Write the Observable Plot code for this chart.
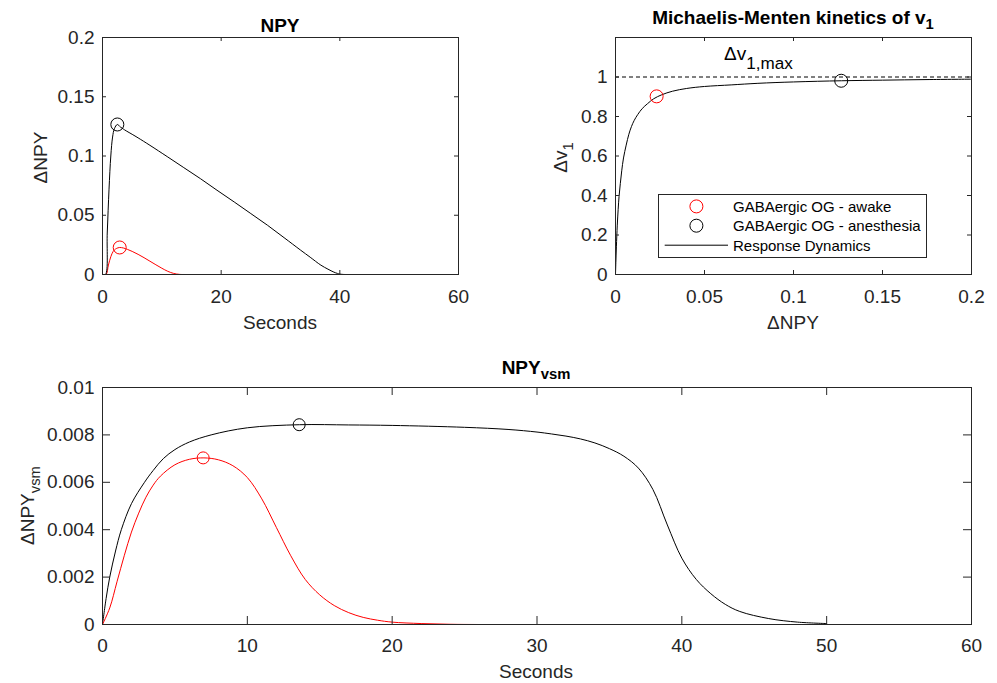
<!DOCTYPE html>
<html><head><meta charset="utf-8">
<script src="https://cdn.jsdelivr.net/npm/d3@7"></script>
<script src="https://cdn.jsdelivr.net/npm/@observablehq/plot@0.6"></script>
<style>
body{margin:0;background:#fff;}
#wrap{position:relative;width:997px;height:683px;font-family:"Liberation Sans",Arial,Helvetica,sans-serif;color:#262626;overflow:hidden;background:#fff}
.abs{position:absolute;white-space:nowrap;line-height:1}
.sub{position:relative;top:0.4em;font-size:0.78em}
.panel{position:absolute}
</style></head><body><div id="wrap"></div>
<script>
// ---------- Data: top-left (NPY vs seconds) ----------
const npyAwakeT = [0, 0.6, 1.0, 1.4, 1.8, 2.2, 2.6, 2.9, 3.5, 4.2, 5, 6, 7, 8, 9, 10, 11, 12, 13, 14, 20, 30, 40, 50];
const npyAwakeV = [0, 0, 0.008, 0.015, 0.0195, 0.0215, 0.0225, 0.0228, 0.0224, 0.0212, 0.0195, 0.0170, 0.0142, 0.0112, 0.0082, 0.0053, 0.0027, 0.0009, 0.0001, 0, 0, 0, 0, 0];
const npyAnesT = [0, 0.5, 0.8, 1.1, 1.4, 1.7, 2.0, 2.5, 3.0, 3.5, 4, 5, 6, 8, 10.9, 13.7, 16.5, 19.3, 22.2, 25, 27.8, 30.6, 33.4, 35, 36.8, 38, 39, 39.6, 40.2, 45, 50];
const npyAnesV = [0, 0, 0.035, 0.072, 0.100, 0.116, 0.123, 0.1266, 0.1245, 0.1228, 0.1212, 0.1183, 0.1153, 0.1090, 0.0995, 0.0902, 0.0809, 0.0711, 0.0612, 0.0514, 0.0416, 0.0311, 0.0205, 0.0146, 0.0079, 0.0045, 0.0020, 0.0009, 0.0002, 0, 0];
const npyMarkT = [2.9, 2.5];          // awake, anesthesia
const npyMarkV = [0.0228, 0.1266];

// ---------- Data: top-right (Michaelis-Menten) ----------
const mmNPY = [0, 0.0002, 0.0005, 0.001, 0.0015, 0.002, 0.0027, 0.0035, 0.0045, 0.006, 0.0075, 0.009, 0.0105, 0.0125, 0.015, 0.018, 0.0215, 0.026, 0.032, 0.04, 0.05, 0.065, 0.08, 0.1, 0.127, 0.15, 0.175, 0.2];
const mmV1  = [0, 0.06, 0.14, 0.25, 0.33, 0.395, 0.46, 0.525, 0.59, 0.655, 0.71, 0.75, 0.78, 0.81, 0.84, 0.865, 0.89, 0.91, 0.928, 0.942, 0.952, 0.96, 0.968, 0.975, 0.981, 0.984, 0.987, 0.989];
const mmMarkNPY = [0.0231, 0.1268];   // awake, anesthesia
const mmMarkV1  = [0.902, 0.981];
const v1max = 1;

// ---------- Data: bottom (NPY_vsm vs seconds) ----------
const vsmAwakeT = [0, 0.5, 1, 1.5, 2, 2.5, 3, 3.5, 4, 5, 6, 7, 8, 9, 10, 11, 12, 13, 14, 15, 16, 17, 18, 19, 20, 22, 24, 26, 30, 50];
const vsmAwakeV = [0, 0.0007, 0.0018, 0.0029, 0.0039, 0.0047, 0.00537, 0.00588, 0.00626, 0.00674, 0.00697, 0.00703, 0.00695, 0.0067, 0.0062, 0.0053, 0.0041, 0.0029, 0.0019, 0.00125, 0.0008, 0.0005, 0.0003, 0.00018, 0.0001, 0.00004, 0.00001, 0, 0, 0];
const vsmAnesT = [0, 0.25, 0.5, 0.9, 1.3, 2, 2.9, 3.5, 4.2, 5, 6, 7.5, 10, 13.6, 17, 20, 25, 28, 30, 31, 32, 33, 34, 35, 36, 37, 38, 39, 40, 41, 42, 43, 44, 46, 48, 50];
const vsmAnesV = [0, 0.0011, 0.002, 0.0031, 0.004, 0.0051, 0.006, 0.0065, 0.007, 0.00738, 0.0077, 0.008, 0.0083, 0.00843, 0.00842, 0.0084, 0.00832, 0.00823, 0.00812, 0.00804, 0.00795, 0.00783, 0.00766, 0.00742, 0.0071, 0.0066, 0.0057, 0.0042, 0.0028, 0.0019, 0.0013, 0.00085, 0.00055, 0.00025, 0.0001, 0.00004];
const vsmMarkT = [6.95, 13.58];
const vsmMarkV = [0.00703, 0.00843];

// ---------- Ticks ----------
const secTicks = [0, 20, 40, 60];
const npyTicks = [0, 0.05, 0.1, 0.15, 0.2];
const mmXTicks = [0, 0.05, 0.1, 0.15, 0.2];
const mmYTicks = [0, 0.2, 0.4, 0.6, 0.8, 1];
const vsmXTicks = [0, 10, 20, 30, 40, 50, 60];
const vsmYTicks = [0, 0.002, 0.004, 0.006, 0.008, 0.01];

const pts = (xs, ys) => xs.map((x, i) => ({x, y: ys[i]}));
const AX = "#262626";
const FONT = '"Liberation Sans", Arial, Helvetica, sans-serif';
const CURVE = "catmull-rom";

function panel({left, top, width, height, ml, mr, mt, mb, xDomain, yDomain, xTicks, yTicks, tickLen, xPad, marks}) {
  const W = width - ml - mr, H = height - mt - mb;
  const svg = Plot.plot({
    width, height, marginLeft: ml, marginRight: mr, marginTop: mt, marginBottom: mb,
    style: {fontFamily: FONT, fontSize: "19px", color: AX, background: "transparent", overflow: "visible"},
    x: {domain: xDomain}, y: {domain: yDomain},
    marks: [
      ...marks,
      Plot.frame({stroke: AX, strokeWidth: 1}),
      Plot.tickX(xTicks, {x: d => d, insetTop: H - tickLen, stroke: AX}),
      Plot.tickX(xTicks, {x: d => d, insetBottom: H - tickLen, stroke: AX}),
      Plot.tickY(yTicks, {y: d => d, insetRight: W - tickLen, stroke: AX}),
      Plot.tickY(yTicks, {y: d => d, insetLeft: W - tickLen, stroke: AX}),
      Plot.axisX({ticks: xTicks, tickSize: 0, tickPadding: xPad, label: null, tickFormat: d => String(d)}),
      Plot.axisY({ticks: yTicks, tickSize: 0, tickPadding: 8, label: null, tickFormat: d => String(d)})
    ]
  });
  const div = document.createElement("div");
  div.className = "panel";
  div.style.left = left + "px"; div.style.top = top + "px";
  div.style.width = width + "px"; div.style.height = height + "px";
  div.appendChild(svg);
  document.getElementById("wrap").appendChild(div);
}

function label(html, cx, cy, {size = 19, bold = false, rotate = 0, color = "#262626", anchor = "middle"} = {}) {
  const d = document.createElement("div");
  d.className = "abs";
  d.innerHTML = html;
  d.style.fontSize = size + "px";
  d.style.fontWeight = bold ? "bold" : "normal";
  d.style.color = color;
  d.style.left = cx + "px";
  d.style.top = (cy - size / 2) + "px";
  const tx = anchor === "start" ? "0" : "-50%";
  d.style.transformOrigin = "50% " + (size / 2) + "px";
  d.style.transform = `translateX(${tx}) rotate(${rotate}deg)`;
  document.getElementById("wrap").appendChild(d);
  return d;
}

const lineOpts = (stroke) => ({x: "x", y: "y", stroke, strokeWidth: 1, curve: CURVE, clip: true});
const dotOpts = (stroke, r) => ({x: "x", y: "y", r, stroke, fill: "none", strokeWidth: 1});

// ---------- Top-left ----------
const npyMarks = pts(npyMarkT, npyMarkV);
panel({
  left: 0, top: 0, width: 500, height: 340, ml: 102, mr: 42, mt: 37, mb: 66,
  xDomain: [0, 60], yDomain: [0, 0.2], xTicks: secTicks, yTicks: npyTicks, tickLen: 4, xPad: 15,
  marks: [
    Plot.line(pts(npyAwakeT, npyAwakeV), lineOpts("red")),
    Plot.line(pts(npyAnesT, npyAnesV), lineOpts("black")),
    Plot.dot([npyMarks[0]], dotOpts("red", 6.5)),
    Plot.dot([npyMarks[1]], dotOpts("black", 6.5))
  ]
});

// ---------- Top-right ----------
const mmMarks = pts(mmMarkNPY, mmMarkV1);
panel({
  left: 500, top: 0, width: 497, height: 340, ml: 115, mr: 26, mt: 37, mb: 66,
  xDomain: [0, 0.2], yDomain: [0, 1.2], xTicks: mmXTicks, yTicks: mmYTicks, tickLen: 4, xPad: 15,
  marks: [
    Plot.ruleY([v1max], {stroke: "black", strokeWidth: 1, strokeDasharray: "4,3"}),
    Plot.line(pts(mmNPY, mmV1), lineOpts("black")),
    Plot.dot([mmMarks[0]], dotOpts("red", 6.5)),
    Plot.dot([mmMarks[1]], dotOpts("black", 6.5))
  ]
});

// ---------- Bottom ----------
const vsmMarks = pts(vsmMarkT, vsmMarkV);
panel({
  left: 0, top: 340, width: 997, height: 343, ml: 102, mr: 26, mt: 47, mb: 59,
  xDomain: [0, 60], yDomain: [0, 0.01], xTicks: vsmXTicks, yTicks: vsmYTicks, tickLen: 8, xPad: 14,
  marks: [
    Plot.line(pts(vsmAnesT, vsmAnesV), lineOpts("black")),
    Plot.line(pts(vsmAwakeT, vsmAwakeV), lineOpts("red")),
    Plot.dot([vsmMarks[0]], dotOpts("red", 6)),
    Plot.dot([vsmMarks[1]], dotOpts("black", 6))
  ]
});

// ---------- Titles & axis labels ----------
label("NPY", 280, 25, {bold: true, color: "#000"});
label('Michaelis-Menten kinetics of v<span class="sub">1</span>', 793, 17, {bold: true, color: "#000"});
label('NPY<span class="sub">vsm</span>', 536, 367, {bold: true, color: "#000"});

label("Seconds", 280, 322);
label("ΔNPY", 793, 322);
label("Seconds", 536, 671);

label("ΔNPY", 40, 157, {rotate: -90});
label('Δv<span class="sub">1</span>', 560, 157, {rotate: -90});
label('ΔNPY<span class="sub">vsm</span>', 27, 505, {rotate: -90});

// Δv1,max annotation
label('Δv<span class="sub" style="font-size:0.9em;top:0.55em">1,max</span>', 724, 53, {anchor: "start", color: "#000"});

// ---------- Legend ----------
(function () {
  const lg = document.createElement("div");
  lg.style.cssText = "position:absolute;left:658px;top:194px;width:269px;height:64px;box-sizing:border-box;border:1px solid #262626;background:#fff;";
  const items = [
    {type: "circle", color: "red", text: "GABAergic OG - awake", y: 12.4},
    {type: "circle", color: "black", text: "GABAergic OG - anesthesia", y: 31.7},
    {type: "line", color: "black", text: "Response Dynamics", y: 51.2}
  ];
  let s = '<svg width="269" height="64" style="position:absolute;left:-1px;top:-1px">';
  for (const it of items) {
    if (it.type === "circle") s += `<circle cx="38.4" cy="${it.y}" r="6.5" fill="none" stroke="${it.color}" stroke-width="1"/>`;
    else s += `<line x1="6.7" x2="70" y1="${it.y}" y2="${it.y}" stroke="${it.color}" stroke-width="1"/>`;
    s += `<text x="75" y="${it.y}" dy="0.36em" font-size="15" fill="#000" font-family='${FONT}'>${it.text}</text>`;
  }
  s += "</svg>";
  lg.innerHTML = s;
  document.getElementById("wrap").appendChild(lg);
})();
</script></body></html>
